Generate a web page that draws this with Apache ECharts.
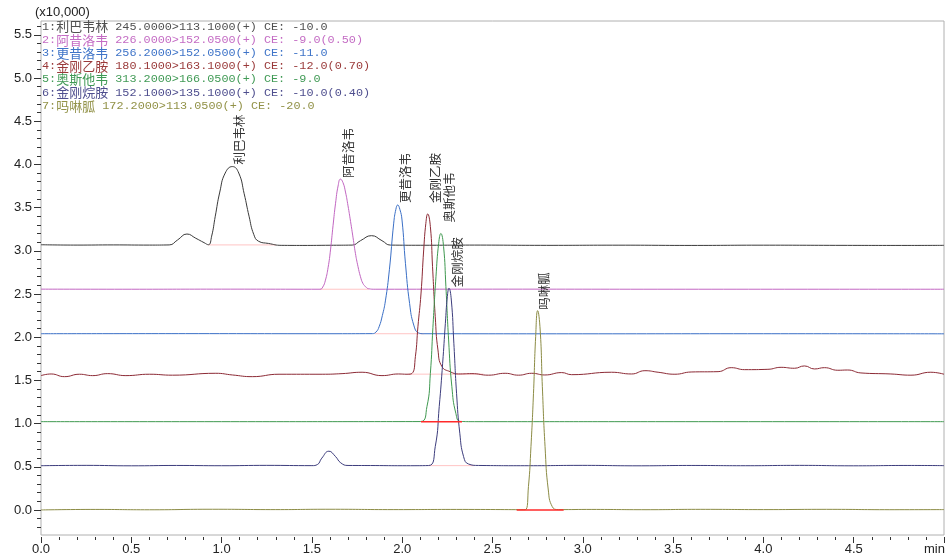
<!DOCTYPE html>
<html><head><meta charset="utf-8">
<script src="https://cdn.jsdelivr.net/npm/echarts@6/dist/echarts.min.js"></script>
<style>html,body{margin:0;padding:0;background:#fff}#c{width:947px;height:560px}</style>
</head><body><div id="c"></div>
<script>
// ---------- data ----------
const compounds = ['利巴韦林','阿昔洛韦','更昔洛韦','金刚乙胺','奥斯他韦','金刚烷胺','吗啉胍'];
const transitions = [
  '245.0000>113.1000(+) CE: -10.0',
  '226.0000>152.0500(+) CE: -9.0(0.50)',
  '256.2000>152.0500(+) CE: -11.0',
  '180.1000>163.1000(+) CE: -12.0(0.70)',
  '313.2000>166.0500(+) CE: -9.0',
  '152.1000>135.1000(+) CE: -10.0(0.40)',
  '172.2000>113.0500(+) CE: -20.0'
];
const xTickValues = [0,0.5,1,1.5,2,2.5,3,3.5,4,4.5];
const yTickValues = [0,0.5,1,1.5,2,2.5,3,3.5,4,4.5,5,5.5];

const trace1 = [[0,3.07],[0.2,3.066],[0.4,3.068],[0.6,3.066],[0.71,3.068],[0.756,3.125],[0.808,3.194],[0.857,3.145],[0.903,3.094],[0.927,3.07],
  [0.945,3.17],[0.965,3.40],[0.99,3.68],[1.02,3.90],[1.06,3.975],[1.095,3.90],[1.125,3.66],[1.152,3.40],[1.178,3.19],[1.205,3.11],[1.26,3.085],[1.33,3.063],
  [1.45,3.062],[1.6,3.064],[1.723,3.066],[1.769,3.117],[1.83,3.175],[1.888,3.117],[1.935,3.066],[2.1,3.064],[2.4,3.066],[2.8,3.063],[3.2,3.065],[3.6,3.062],[4.0,3.065],[4.4,3.063],[4.8,3.062],[5.0,3.063]];
const trace2 = [[0,2.556],[0.5,2.555],[1.0,2.556],[1.545,2.555],[1.56,2.58],[1.575,2.66],[1.59,2.81],[1.603,3.01],[1.617,3.29],[1.631,3.55],[1.645,3.75],[1.658,3.83],
  [1.672,3.79],[1.686,3.68],[1.70,3.52],[1.714,3.34],[1.728,3.15],[1.741,2.97],[1.755,2.82],[1.769,2.70],[1.783,2.62],[1.797,2.585],[1.815,2.56],[1.85,2.555],[2.5,2.556],[3.5,2.555],[5.0,2.555]];
const trace3 = [[0,2.04],[0.8,2.041],[1.6,2.04],[1.835,2.041],[1.855,2.06],[1.872,2.12],[1.89,2.25],[1.907,2.42],[1.929,2.78],[1.953,3.32],[1.965,3.48],[1.975,3.53],[1.987,3.48],[1.999,3.356],
  [2.018,2.855],[2.041,2.39],[2.064,2.14],[2.09,2.05],[2.12,2.04],[3.0,2.039],[4.0,2.04],[5.0,2.039]];
const trace4 = [[0,1.555],[0.056,1.574],[0.13,1.543],[0.213,1.571],[0.286,1.555],[0.369,1.578],[0.47,1.555],[0.6,1.571],[0.728,1.56],[0.968,1.582],[1.06,1.5625],
  [1.17,1.543],[1.318,1.571],[1.557,1.571],[1.667,1.578],[1.778,1.594],[1.888,1.555],[1.98,1.574],[2.027,1.571],[2.054,1.58],[2.073,1.774],[2.087,2.12],[2.104,2.5],
  [2.119,3.01],[2.131,3.318],[2.141,3.426],[2.156,3.28],[2.168,2.816],[2.183,2.237],[2.198,1.852],[2.22,1.66],[2.266,1.60],[2.312,1.574],[2.386,1.578],[2.478,1.56],
  [2.57,1.582],[2.644,1.56],[2.717,1.582],[2.79,1.5625],[2.883,1.59],[2.938,1.566],[3.159,1.594],[3.27,1.574],[3.344,1.612],[3.417,1.594],[3.51,1.571],[3.6,1.597],
  [3.749,1.601],[3.822,1.647],[3.896,1.624],[4.025,1.628],[4.098,1.651],[4.172,1.64],[4.227,1.667],[4.283,1.632],[4.338,1.647],[4.412,1.617],[4.467,1.62],[4.54,1.586],
  [4.706,1.574],[4.817,1.56],[4.927,1.594],[5.0,1.571]];
const trace5 = [[0,1.022],[1.0,1.022],[2.10,1.023],[2.137,1.196],[2.156,1.582],[2.17,2.11],[2.187,2.70],[2.202,3.087],[2.214,3.20],[2.229,3.05],[2.242,2.585],
  [2.257,1.968],[2.275,1.427],[2.297,1.119],[2.322,1.025],[2.4,1.022],[3.5,1.022],[5.0,1.022]];
const trace6 = [[0,0.512],[0.25,0.516],[0.5,0.511],[0.75,0.515],[1.0,0.512],[1.25,0.516],[1.50,0.513],[1.53,0.525],[1.555,0.60],[1.594,0.68],[1.63,0.62],[1.66,0.545],
  [1.70,0.515],[1.85,0.514],[2.0,0.512],[2.146,0.514],[2.183,0.733],[2.205,1.196],[2.224,1.698],[2.239,2.16],[2.25,2.47],[2.259,2.566],[2.272,2.43],[2.286,1.93],
  [2.301,1.35],[2.319,0.888],[2.34,0.617],[2.367,0.532],[2.423,0.515],[2.7,0.512],[3.0,0.516],[3.3,0.511],[3.6,0.515],[3.9,0.512],[4.2,0.516],[4.5,0.511],[4.8,0.515],[5.0,0.513]];
const trace7 = [[0,0.0],[0.3,0.006],[0.6,0.002],[0.95,0.008],[1.3,0.004],[1.6,0.008],[1.95,0.004],[2.3,0.006],
  [2.681,0.003],[2.699,0.27],[2.713,0.733],[2.727,1.35],[2.739,2.006],[2.75,2.307],[2.764,2.083],[2.776,1.427],[2.791,0.733],[2.809,0.231],
  [2.831,0.038],[2.865,0.004],[3.05,0.006],[3.35,0.003],[3.65,0.007],[4.0,0.004],[4.35,0.007],[4.7,0.003],[5.0,0.004]];
const traces = [trace1, trace2, trace3, trace4, trace5, trace6, trace7];
const baselineLevels = [3.068, 2.555, 2.04, 1.572, 1.022, 0.513, 0.0];
const integrationWindows = [[0.927,1.30],[1.545,1.815],[1.848,2.12],[2.03,2.45],[2.104,2.331],[2.146,2.40],[2.634,2.894]];
const manualIntegration = [false,false,false,false,true,false,true];

// ---------- styles ----------
const lineColors = ['#3a3a3a','#c266c2','#3a6fc6','#8c2a35','#3f9950','#3d3d7d','#8c8c45'];
const textColors = ['#505050','#c46cc4','#3f74c8','#9a3a3a','#409a55','#4e4e8e','#929248'];
const labelDx = [7,8,8,8,8,8,7];
const labelDy = [-2,-1,-2,-11,-11,-1,-1];

const Y_MIN = -0.29, Y_MAX = 5.66, G_TOP = 21, G_BOTTOM = 25, G_LEFT = 41, G_RIGHT = 1;
const plotH = 560 - G_TOP - G_BOTTOM;
const ppu = plotH / (Y_MAX - Y_MIN);

const chart = echarts.init(document.getElementById('c'), null, {renderer: 'canvas'});

const series = [];
integrationWindows.forEach((w, i) => {
  series.push({
    type: 'line', xAxisIndex: 0, yAxisIndex: 0, symbol: 'none', silent: true,
    data: [[w[0], baselineLevels[i]], [w[1], baselineLevels[i]]],
    lineStyle: {color: manualIntegration[i] ? '#ff2a2a' : '#ffc4c4', width: manualIntegration[i] ? 1.5 : 1},
    z: manualIntegration[i] ? 5 : 1
  });
});
traces.forEach((tr, i) => {
  series.push({
    type: 'line', xAxisIndex: 0, yAxisIndex: 0, symbol: 'none', silent: true,
    smooth: 0.5,
    data: tr, lineStyle: {color: lineColors[i], width: 1}, z: 2
  });
});

const fmt1 = v => (Math.abs(v) < 1e-9 ? 0 : v).toFixed(1);

chart.setOption({
  animation: false,
  backgroundColor: '#fff',
  grid: [
    {left: G_LEFT, right: G_RIGHT, top: G_TOP, bottom: G_BOTTOM, show: true, borderColor: '#b0b0b0', borderWidth: 1, backgroundColor: 'transparent'},
    {left: G_LEFT, right: G_RIGHT, top: G_TOP + (Y_MAX - 5.5) * ppu, bottom: G_BOTTOM + (0 - Y_MIN) * ppu},
    {left: G_LEFT, right: G_RIGHT, top: G_TOP + (Y_MAX - 5.6) * ppu, bottom: G_BOTTOM + (-0.2 - Y_MIN) * ppu}
  ],
  xAxis: [
    {gridIndex: 0, type: 'value', min: 0, max: 5, interval: 0.5, offset: 2, position: 'bottom',
      axisLine: {show: false, onZero: false}, splitLine: {show: false},
      axisTick: {show: true, length: 6, lineStyle: {color: '#333'}},
      minorTick: {show: true, splitNumber: 5, length: 3, lineStyle: {color: '#333'}},
      axisLabel: {margin: 6, fontSize: 13, color: '#222', fontFamily: 'Liberation Sans',
        formatter: v => (xTickValues.some(t => Math.abs(t - v) < 1e-6) ? fmt1(v) : '')}},
    {gridIndex: 1, type: 'value', min: 0, max: 1, show: false, axisLine: {onZero: false}},
    {gridIndex: 2, type: 'value', min: 0, max: 1, show: false, axisLine: {onZero: false}}
  ],
  yAxis: [
    {gridIndex: 0, type: 'value', min: Y_MIN, max: Y_MAX, show: false, splitLine: {show: false}, axisLine: {onZero: false}},
    {gridIndex: 1, type: 'value', min: 0, max: 5.5, interval: 0.5,
      axisLine: {show: false, onZero: false}, splitLine: {show: false},
      axisTick: {show: true, length: 7, lineStyle: {color: '#333'}},
      axisLabel: {margin: 9, fontSize: 13, color: '#222', fontFamily: 'Liberation Sans',
        formatter: v => (yTickValues.some(t => Math.abs(t - v) < 1e-6) ? fmt1(v) : '')}},
    {gridIndex: 2, type: 'value', min: -0.2, max: 5.6, interval: 0.1,
      axisLine: {show: false, onZero: false}, splitLine: {show: false},
      axisTick: {show: true, length: 4, lineStyle: {color: '#333'}},
      axisLabel: {show: false}}
  ],
  series: series
});

// ---------- text overlays ----------
const graphics = [];
graphics.push({type: 'text', left: 35, top: 6, silent: true,
  style: {text: '(x10,000)', font: '13px "Liberation Sans"', fill: '#222'}});
graphics.push({type: 'text', left: 924, top: 543, silent: true,
  style: {text: 'min', font: '13px "Liberation Sans"', fill: '#222'}});

compounds.forEach((name, i) => {
  graphics.push({
    type: 'text', x: 42, y: 26.5 + i * 13.2, silent: true, z: 20,
    style: {
      text: '{a|' + (i + 1) + ':}{b|' + name + '}{a| ' + transitions[i] + '}',
      textVerticalAlign: 'middle', verticalAlign: 'middle',
      rich: {
        a: {fontFamily: 'Liberation Mono', fontSize: 11.8, fill: textColors[i], color: textColors[i]},
        b: {fontFamily: 'Noto Sans CJK SC', fontSize: 13, fill: textColors[i], color: textColors[i]}
      }
    }
  });
});

traces.forEach((tr, i) => {
  let top = tr[0];
  tr.forEach(p => { if (p[1] > top[1]) top = p; });
  const px = chart.convertToPixel({gridIndex: 0}, top);
  graphics.push({
    type: 'text', x: px[0] + labelDx[i], y: px[1] + labelDy[i], rotation: Math.PI / 2, silent: true, z: 20,
    style: {text: compounds[i], font: '12.5px "Noto Sans CJK SC"', fill: '#333',
      textAlign: 'left', align: 'left', textVerticalAlign: 'middle', verticalAlign: 'middle'}
  });
});

chart.setOption({graphic: graphics});
</script>
</body></html>
